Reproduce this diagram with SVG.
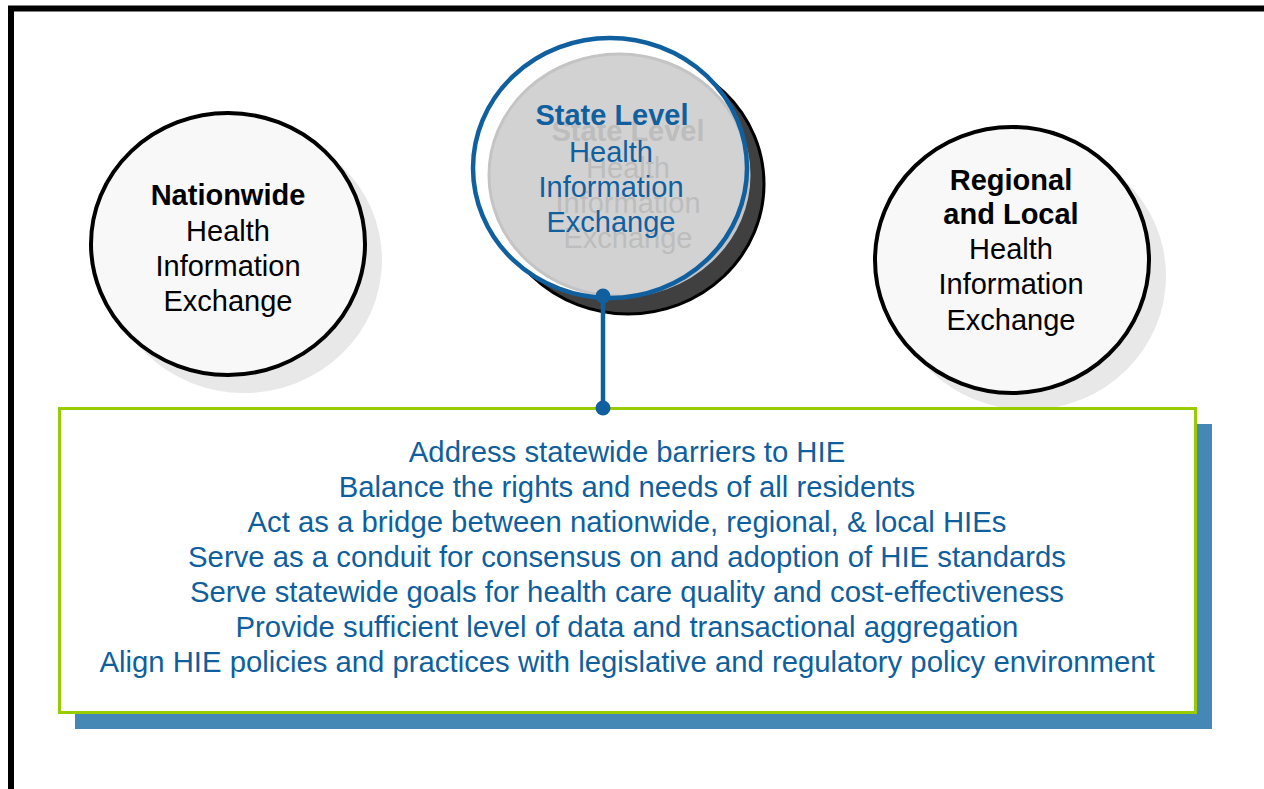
<svg xmlns="http://www.w3.org/2000/svg" width="1264" height="789" viewBox="0 0 1264 789">
<style>
.t{font-family:"Liberation Sans",Arial,sans-serif;font-size:29px;text-anchor:middle}
.b{font-weight:bold}
.dk{fill:#000}
.bl{fill:#1060A0}
.gh{fill:#bdbdbd}
.box{fill:#0F5F9E;font-size:29.3px}
</style>
<rect width="1264" height="789" fill="#fff"/>
<rect x="11" y="8.5" width="1300" height="820" fill="none" stroke="#000" stroke-width="6"/>

<g id="nationwide">
  <ellipse cx="244" cy="260" rx="138" ry="133" fill="#e8e8e8"/>
  <ellipse cx="228" cy="244" rx="137" ry="131" fill="#f8f8f8" stroke="#000" stroke-width="4"/>
  <text class="t b dk" x="228" y="205">Nationwide</text>
  <text class="t dk" x="228" y="241">Health</text>
  <text class="t dk" x="228" y="276">Information</text>
  <text class="t dk" x="228" y="311">Exchange</text>
</g>

<g id="regional">
  <ellipse cx="1028" cy="276" rx="138" ry="134" fill="#e8e8e8"/>
  <ellipse cx="1012" cy="260" rx="137" ry="133" fill="#f8f8f8" stroke="#000" stroke-width="4"/>
  <text class="t b dk" x="1011" y="190">Regional</text>
  <text class="t b dk" x="1011" y="224">and Local</text>
  <text class="t dk" x="1011" y="259">Health</text>
  <text class="t dk" x="1011" y="294">Information</text>
  <text class="t dk" x="1011" y="330">Exchange</text>
</g>

<g id="state">
  <ellipse cx="628" cy="184" rx="136" ry="130" fill="#404040" stroke="#000" stroke-width="3"/>
  <ellipse cx="610" cy="168" rx="137" ry="130" fill="#fff"/>
  <ellipse cx="619" cy="175" rx="130" ry="121" fill="#d2d2d2" stroke="#c4c4c4" stroke-width="3"/>
  <text class="t b gh" x="628" y="141">State Level</text>
  <text class="t gh" x="628" y="178">Health</text>
  <text class="t gh" x="628" y="213">Information</text>
  <text class="t gh" x="628" y="248">Exchange</text>
  <ellipse cx="610" cy="168" rx="137" ry="130" fill="none" stroke="#1060A0" stroke-width="4.5"/>
  <text class="t b bl" x="612" y="125">State Level</text>
  <text class="t bl" x="611" y="162">Health</text>
  <text class="t bl" x="611" y="197">Information</text>
  <text class="t bl" x="611" y="232">Exchange</text>
</g>

<g id="connectors">
  <line x1="603" y1="296" x2="603" y2="408" stroke="#1060A0" stroke-width="4.5"/>
  <circle cx="603" cy="296" r="7.5" fill="#1060A0"/>
</g>

<g id="goals">
  <rect x="75" y="424" width="1137" height="305" fill="#4587B5"/>
  <rect x="59.5" y="408.5" width="1136" height="304" fill="#fff" stroke="#99CC00" stroke-width="3"/>
  <circle cx="603" cy="408" r="7.5" fill="#1060A0"/>
  <text class="t box" x="627" y="462">Address statewide barriers to HIE</text>
  <text class="t box" x="627" y="497">Balance the rights and needs of all residents</text>
  <text class="t box" x="627" y="532">Act as a bridge between nationwide, regional, &amp; local HIEs</text>
  <text class="t box" x="627" y="567">Serve as a conduit for consensus on and adoption of HIE standards</text>
  <text class="t box" x="627" y="602">Serve statewide goals for health care quality and cost-effectiveness</text>
  <text class="t box" x="627" y="637">Provide sufficient level of data and transactional aggregation</text>
  <text class="t box" x="627" y="672">Align HIE policies and practices with legislative and regulatory policy environment</text>
</g>
</svg>
